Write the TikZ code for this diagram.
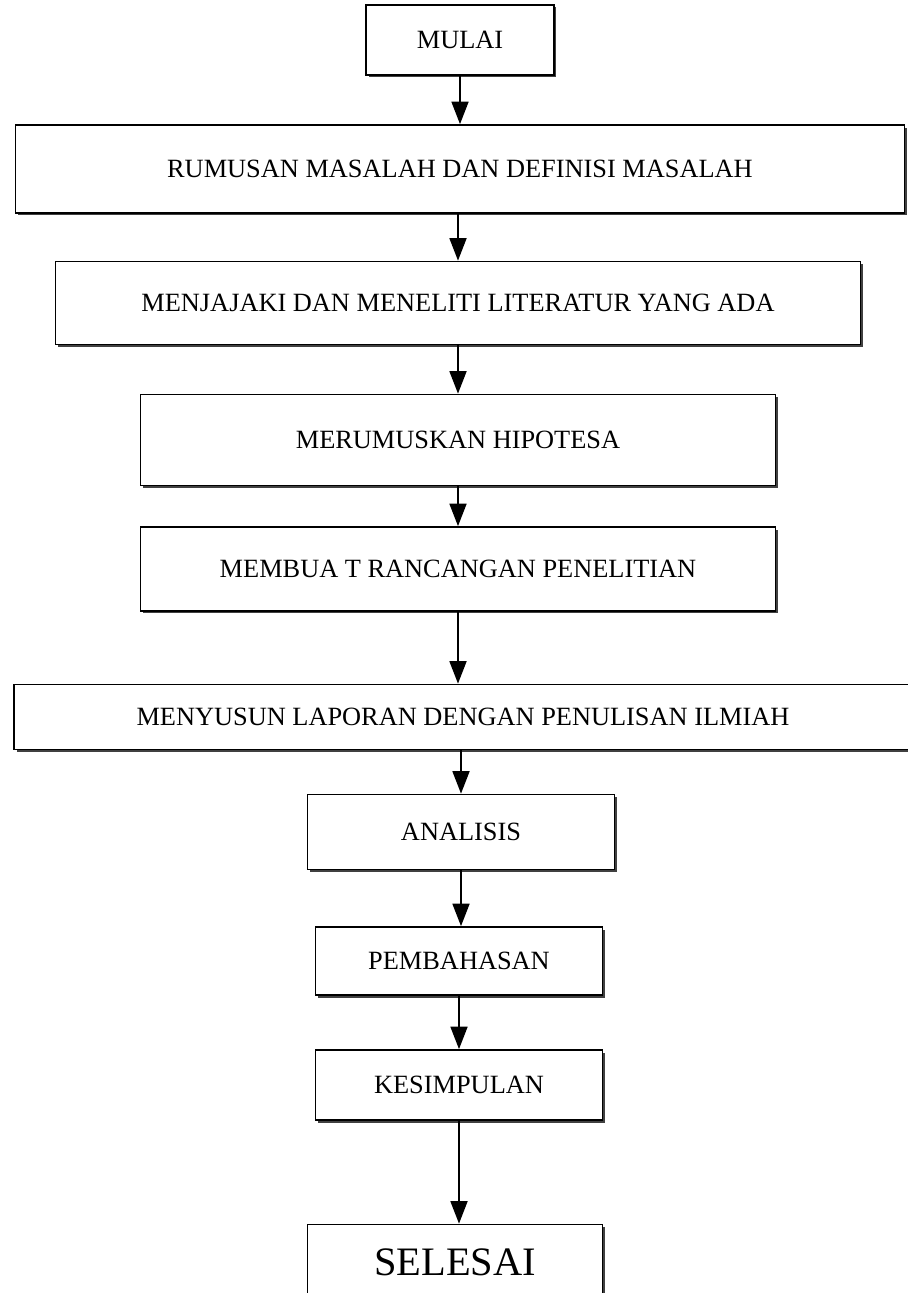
\documentclass[tikz,border=0pt]{standalone}
\usepackage{fontspec}
\setmainfont{Liberation Serif}
\usetikzlibrary{arrows.meta,shadows}

\begin{document}
\begin{tikzpicture}[x=0.02cm,y=-0.02cm,
  langkah/.style={draw=black,line width=1pt,fill=white,inner sep=0pt,
    font=\fontsize{15}{18}\selectfont,
    drop shadow={shadow xshift=0.05cm,shadow yshift=-0.05cm,fill=black!75,opacity=1}},
  alur/.style={-{Triangle[length=4.5mm,width=3.4mm]},line width=1pt}
]
 \path[use as bounding box,fill=white] (0,0) rectangle (908,1293);

 % kotak-kotak tahapan, dari atas ke bawah
 \node[langkah,minimum width=3.76cm,minimum height=1.4cm] (mulai) at (460,40) {MULAI};
 \node[langkah,minimum width=17.78cm,minimum height=1.76cm] (rumusan) at (460,169)
   {RUMUSAN MASALAH DAN DEFINISI MASALAH};
 \node[langkah,minimum width=16.1cm,minimum height=1.66cm] (literatur) at (458,303)
   {MENJAJAKI DAN MENELITI LITERATUR YANG ADA};
 \node[langkah,minimum width=12.7cm,minimum height=1.82cm] (hipotesa) at (458,440)
   {MERUMUSKAN HIPOTESA};
 \node[langkah,minimum width=12.7cm,minimum height=1.68cm] (rancangan) at (458,569)
   {MEMBUA T RANCANGAN PENELITIAN};
 \node[langkah,minimum width=17.96cm,minimum height=1.3cm] (laporan) at (463,717)
   {MENYUSUN LAPORAN DENGAN PENULISAN ILMIAH};
 \node[langkah,minimum width=6.14cm,minimum height=1.5cm] (analisis) at (461,832) {ANALISIS};
 \node[langkah,minimum width=5.74cm,minimum height=1.36cm] (pembahasan) at (459,961) {PEMBAHASAN};
 \node[langkah,minimum width=5.74cm,minimum height=1.4cm] (kesimpulan) at (459,1085) {KESIMPULAN};
 \node[langkah,minimum width=5.9cm,minimum height=1.5cm,font=\fontsize{23}{27}\selectfont]
   (selesai) at (455,1262) {SELESAI};

 % panah penghubung
 \draw[alur] (mulai.south) -- (mulai.south |- rumusan.north);
 \draw[alur] (literatur.north |- rumusan.south) -- (literatur.north);
 \draw[alur] (literatur.south) -- (literatur.south |- hipotesa.north);
 \draw[alur] (hipotesa.south) -- (hipotesa.south |- rancangan.north);
 \draw[alur] (rancangan.south) -- (rancangan.south |- laporan.north);
 \draw[alur] (analisis.north |- laporan.south) -- (analisis.north);
 \draw[alur] (analisis.south) -- (analisis.south |- pembahasan.north);
 \draw[alur] (pembahasan.south) -- (pembahasan.south |- kesimpulan.north);
 \draw[alur] (kesimpulan.south) -- (kesimpulan.south |- selesai.north);
\end{tikzpicture}
\end{document}
